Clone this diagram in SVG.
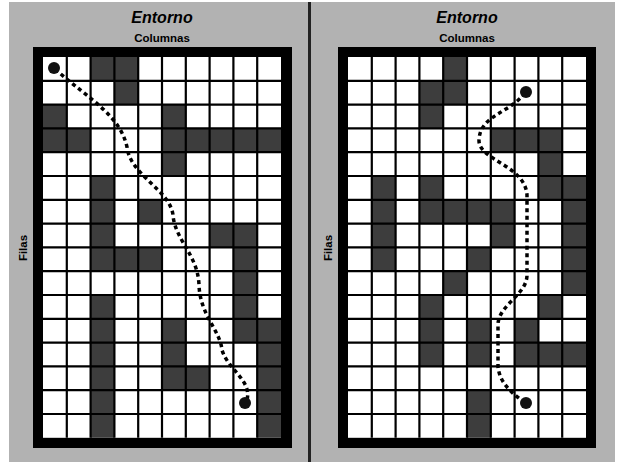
<svg xmlns="http://www.w3.org/2000/svg" width="621" height="462" viewBox="0 0 621 462">
<style>
.panel{fill:#b2b2b2}
.frame{fill:#000}
.cellbg{fill:#fff}
.d{fill:#3d3d3d}
.gl{fill:none;stroke:#000;stroke-width:2.2}
.title{font-family:"Liberation Sans",Arial,sans-serif;font-weight:bold;font-style:italic;font-size:16px;fill:#000;text-anchor:middle}
.sub{font-family:"Liberation Sans",Arial,sans-serif;font-weight:bold;font-size:11.5px;fill:#000;text-anchor:middle}
.route{fill:none;stroke:#000;stroke-width:3.5;stroke-dasharray:4 3.5}
.dot{fill:#111}
</style>
<defs>
<path id="gridlines" class="gl" d="M23.8,0V380.8M47.6,0V380.8M71.4,0V380.8M95.2,0V380.8M119,0V380.8M142.8,0V380.8M166.6,0V380.8M190.4,0V380.8M214.2,0V380.8M0,23.8H238M0,47.6H238M0,71.4H238M0,95.2H238M0,119H238M0,142.8H238M0,166.6H238M0,190.4H238M0,214.2H238M0,238H238M0,261.8H238M0,285.6H238M0,309.4H238M0,333.2H238M0,357H238"/>
</defs>
<rect x="0" y="0" width="621" height="462" fill="#fff"/>
<g id="panel-left">
<rect class="panel" x="9" y="2" width="299" height="460"/>
<text class="title" x="162" y="23">Entorno</text>
<text class="sub" x="162" y="42">Columnas</text>
<text class="sub" transform="translate(27,248) rotate(-90)">Filas</text>
<g id="grid-left" transform="translate(43,57)">
<rect class="frame" x="-10" y="-10" width="259" height="401"/>
<rect class="cellbg" x="0" y="0" width="238" height="380.8"/>
<rect class="d" x="47.6" y="0" width="47.6" height="23.8"/>
<rect class="d" x="71.4" y="23.8" width="23.8" height="23.8"/>
<rect class="d" x="0" y="47.6" width="23.8" height="47.6"/>
<rect class="d" x="23.8" y="71.4" width="23.8" height="23.8"/>
<rect class="d" x="119" y="47.6" width="23.8" height="71.4"/>
<rect class="d" x="142.8" y="71.4" width="95.2" height="23.8"/>
<rect class="d" x="47.6" y="119" width="23.8" height="95.2"/>
<rect class="d" x="95.2" y="142.8" width="23.8" height="23.8"/>
<rect class="d" x="166.6" y="166.6" width="23.8" height="23.8"/>
<rect class="d" x="190.4" y="166.6" width="23.8" height="119"/>
<rect class="d" x="71.4" y="190.4" width="47.6" height="23.8"/>
<rect class="d" x="47.6" y="238" width="23.8" height="142.8"/>
<rect class="d" x="214.2" y="261.8" width="23.8" height="119"/>
<rect class="d" x="119" y="261.8" width="23.8" height="71.4"/>
<rect class="d" x="142.8" y="309.4" width="23.8" height="23.8"/>
<use href="#gridlines"/>
</g>
</g>
<rect x="308" y="2" width="3" height="460" fill="#222"/>
<g id="panel-right">
<rect class="panel" x="311" y="2" width="304" height="460"/>
<text class="title" x="467" y="23">Entorno</text>
<text class="sub" x="467" y="42">Columnas</text>
<text class="sub" transform="translate(332,248) rotate(-90)">Filas</text>
<g id="grid-right" transform="translate(348,57)">
<rect class="frame" x="-10" y="-10" width="258" height="401"/>
<rect class="cellbg" x="0" y="0" width="238" height="380.8"/>
<rect class="d" x="95.2" y="0" width="23.8" height="47.6"/>
<rect class="d" x="71.4" y="23.8" width="23.8" height="47.6"/>
<rect class="d" x="142.8" y="71.4" width="71.4" height="23.8"/>
<rect class="d" x="190.4" y="95.2" width="23.8" height="47.6"/>
<rect class="d" x="23.8" y="119" width="23.8" height="95.2"/>
<rect class="d" x="71.4" y="119" width="23.8" height="47.6"/>
<rect class="d" x="95.2" y="142.8" width="71.4" height="23.8"/>
<rect class="d" x="142.8" y="166.6" width="23.8" height="23.8"/>
<rect class="d" x="214.2" y="119" width="23.8" height="119"/>
<rect class="d" x="119" y="190.4" width="23.8" height="23.8"/>
<rect class="d" x="95.2" y="214.2" width="23.8" height="23.8"/>
<rect class="d" x="71.4" y="238" width="23.8" height="71.4"/>
<rect class="d" x="190.4" y="238" width="23.8" height="23.8"/>
<rect class="d" x="119" y="261.8" width="23.8" height="47.6"/>
<rect class="d" x="166.6" y="261.8" width="23.8" height="47.6"/>
<rect class="d" x="190.4" y="285.6" width="47.6" height="23.8"/>
<rect class="d" x="119" y="333.2" width="23.8" height="47.6"/>
<use href="#gridlines"/>
</g>
</g>
<g id="connectors">
<path id="route-left" class="route" d="M55,69 C90,100 120,115 127,147 C130,175 170,190 173,215 C175,240 198,255 199,285 C200,315 220,330 222,350 C228,370 252,380 247,400"/>
<path id="route-right" class="route" d="M525,93 C510,113 480,115 479,140 C478,160 525,165 527,195 L527,275 C527,295 498,305 498,325 L498,367 C500,385 515,395 525,403"/>
</g>
<g id="start-left"><circle class="dot" cx="54" cy="68" r="6"/></g>
<g id="goal-left"><circle class="dot" cx="245" cy="403" r="6"/></g>
<g id="start-right"><circle class="dot" cx="526" cy="92" r="6"/></g>
<g id="goal-right"><circle class="dot" cx="526" cy="403" r="6"/></g>
</svg>
